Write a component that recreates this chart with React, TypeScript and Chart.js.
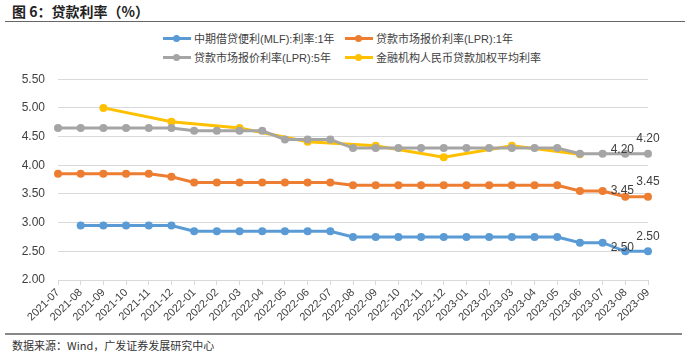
import React, { useEffect, useRef } from "react";
import { Chart, registerables } from "chart.js";

Chart.register(...registerables);

const months = [
  "2021-07", "2021-08", "2021-09", "2021-10", "2021-11", "2021-12",
  "2022-01", "2022-02", "2022-03", "2022-04", "2022-05", "2022-06",
  "2022-07", "2022-08", "2022-09", "2022-10", "2022-11", "2022-12",
  "2023-01", "2023-02", "2023-03", "2023-04", "2023-05", "2023-06",
  "2023-07", "2023-08", "2023-09",
];

const mlf = [
  null, 2.95, 2.95, 2.95, 2.95, 2.95,
  2.85, 2.85, 2.85, 2.85, 2.85, 2.85,
  2.85, 2.75, 2.75, 2.75, 2.75, 2.75,
  2.75, 2.75, 2.75, 2.75, 2.75, 2.65,
  2.65, 2.5, 2.5,
];

const lpr1y = [
  3.85, 3.85, 3.85, 3.85, 3.85, 3.8,
  3.7, 3.7, 3.7, 3.7, 3.7, 3.7,
  3.7, 3.65, 3.65, 3.65, 3.65, 3.65,
  3.65, 3.65, 3.65, 3.65, 3.65, 3.55,
  3.55, 3.45, 3.45,
];

const lpr5y = [
  4.65, 4.65, 4.65, 4.65, 4.65, 4.65,
  4.6, 4.6, 4.6, 4.6, 4.45, 4.45,
  4.45, 4.3, 4.3, 4.3, 4.3, 4.3,
  4.3, 4.3, 4.3, 4.3, 4.3, 4.2,
  4.2, 4.2, 4.2,
];

const weightedAvg = [
  null, null, 5.0, null, null, 4.76,
  null, null, 4.65, null, null, 4.41,
  null, null, 4.34, null, null, 4.14,
  null, null, 4.34, null, null, 4.19,
  null, null, null,
];

const seriesNames = [
  "中期借贷便利(MLF):利率:1年",
  "贷款市场报价利率(LPR):1年",
  "贷款市场报价利率(LPR):5年",
  "金融机构人民币贷款加权平均利率",
];
const colors = ["#5b9bd5", "#ed7d31", "#a5a5a5", "#ffc000"];

const yTicks = [2.0, 2.5, 3.0, 3.5, 4.0, 4.5, 5.0, 5.5];

// [datasetIndex, categoryIndex, dx, dy]
const pointLabels: [number, number, number, number][] = [
  [2, 25, -3, -4],
  [2, 26, 0, -15],
  [1, 25, -3, -6],
  [1, 26, 0, -15],
  [0, 25, -3, -4],
  [0, 26, 0, -15],
];

const labelPlugin = {
  id: "endLabels",
  afterDatasetsDraw(chart: any) {
    const ctx = chart.ctx;
    ctx.save();
    ctx.font = "12px 'Liberation Sans', Arial, sans-serif";
    ctx.fillStyle = "#404040";
    ctx.textAlign = "center";
    ctx.textBaseline = "middle";
    const allData = [mlf, lpr1y, lpr5y, weightedAvg];
    for (const [ds, idx, dx, dy] of pointLabels) {
      const v = allData[ds][idx] as number;
      const x = chart.scales.x.getPixelForValue(idx);
      const y = chart.scales.y.getPixelForValue(v);
      ctx.fillText(v.toFixed(2), x + dx, y + dy);
    }
    ctx.restore();
  },
};

export default function App() {
  const ref = useRef<HTMLCanvasElement | null>(null);

  useEffect(() => {
    document.body.style.margin = "0";
    const canvas = ref.current!;
    const data = [mlf, lpr1y, lpr5y, weightedAvg];
    const chart = new Chart(canvas, {
      type: "line",
      data: {
        labels: months,
        datasets: data.map((d, i) => ({
          label: seriesNames[i],
          data: d,
          borderColor: colors[i],
          backgroundColor: colors[i],
          borderWidth: 3,
          pointRadius: 4,
          pointHoverRadius: 4,
          pointBorderWidth: 0,
          spanGaps: true,
          tension: 0,
        })),
      },
      options: {
        responsive: false,
        animation: false,
        layout: { padding: { top: 8, right: 44, left: 0, bottom: 0 } },
        plugins: {
          legend: { display: false },
          tooltip: { enabled: false },
        },
        scales: {
          x: {
            offset: false,
            grid: {
              display: true,
              drawOnChartArea: false,
              drawTicks: true,
              tickLength: 5,
              color: "#d9d9d9",
            },
            border: { display: true, color: "#d9d9d9", width: 1 },
            ticks: {
              autoSkip: false,
              maxRotation: 45,
              minRotation: 45,
              color: "#404040",
              font: { family: "'Liberation Sans', Arial, sans-serif", size: 11 },
              padding: 1,
            },
            afterFit(scale: any) {
              scale.height = 50;
            },
          },
          y: {
            min: 2,
            max: 5.5,
            afterBuildTicks(scale: any) {
              scale.ticks = yTicks.map((v) => ({ value: v }));
            },
            grid: { color: "#d9d9d9", drawTicks: false },
            border: { display: false },
            ticks: {
              color: "#404040",
              padding: 13,
              font: { family: "'Liberation Sans', Arial, sans-serif", size: 12 },
              callback: (v: any) => Number(v).toFixed(2),
            },
            afterFit(scale: any) {
              scale.width = 58;
            },
          },
        },
      },
      plugins: [labelPlugin],
    });
    return () => chart.destroy();
  }, []);

  const legendItem = (i: number, left: number, top: number) => (
    <div
      key={i}
      style={{
        position: "absolute",
        left,
        top,
        display: "flex",
        alignItems: "center",
        height: 14,
      }}
    >
      <div style={{ position: "relative", width: 28, height: 14, marginRight: 3 }}>
        <div
          style={{
            position: "absolute",
            left: 0,
            top: 6,
            width: 28,
            height: 3,
            background: colors[i],
          }}
        />
        <div
          style={{
            position: "absolute",
            left: 10,
            top: 4,
            width: 7,
            height: 7,
            borderRadius: "50%",
            background: colors[i],
          }}
        />
      </div>
      <span
        style={{
          fontFamily: "'Liberation Sans', Arial, 'Noto Sans CJK SC', sans-serif",
          fontSize: 11,
          color: "#404040",
          whiteSpace: "nowrap",
        }}
      >
        {seriesNames[i]}
      </span>
    </div>
  );

  return (
    <div
      style={{
        position: "relative",
        width: 692,
        height: 353,
        background: "#fff",
        overflow: "hidden",
      }}
    >
      <div
        style={{
          position: "absolute",
          left: 12,
          top: 1,
          fontFamily: "'Noto Sans CJK SC', sans-serif",
          fontWeight: 700,
          fontSize: 14,
          color: "#222",
          whiteSpace: "nowrap",
        }}
      >
        图 6：贷款利率（%）
      </div>
      <div
        style={{
          position: "absolute",
          left: 5,
          top: 21,
          width: 680,
          height: 1,
          background: "#666",
        }}
      />
      {legendItem(0, 163, 31)}
      {legendItem(1, 345, 31)}
      {legendItem(2, 163, 50)}
      {legendItem(3, 345, 50)}
      <canvas
        ref={ref}
        width={692}
        height={271}
        style={{ position: "absolute", left: 0, top: 59, width: 692, height: 271 }}
      />
      <div
        style={{
          position: "absolute",
          left: 5,
          top: 333,
          width: 677,
          height: 2,
          background: "#888",
        }}
      />
      <div
        style={{
          position: "absolute",
          left: 12,
          top: 337,
          fontFamily: "'Noto Sans CJK SC', serif",
          fontSize: 11,
          color: "#333",
          whiteSpace: "nowrap",
        }}
      >
        数据来源：Wind，广发证券发展研究中心
      </div>
    </div>
  );
}
